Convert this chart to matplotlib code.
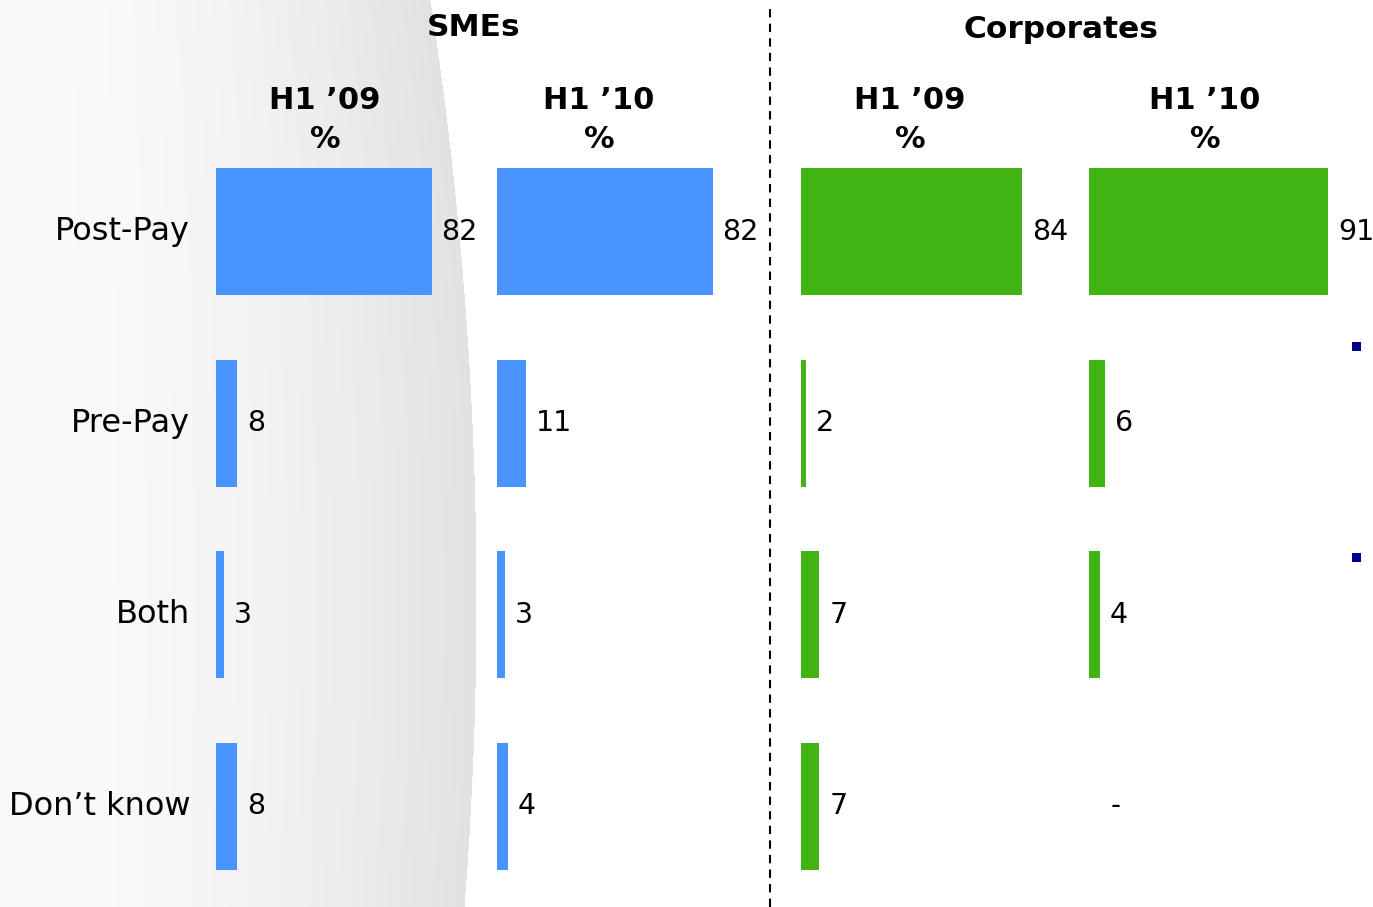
import matplotlib.pyplot as plt
import numpy as np
from matplotlib.patches import Rectangle
from matplotlib.lines import Line2D

W, H = 1373, 907

categories = ['Post-Pay', 'Pre-Pay', 'Both', 'Don\u2019t know']
periods = ['H1 \u201909', 'H1 \u201910']
groups = ['SMEs', 'Corporates']

sme_09 = [82, 8, 3, 8]
sme_10 = [82, 11, 3, 4]
corp_09 = [84, 2, 7, 7]
corp_10 = [91, 6, 4, None]   # no answer recorded -> shown as "-"

blue = '#4893fe'
green = '#41b312'

plt.rcParams['font.family'] = ['DejaVu Sans']

fig = plt.figure(figsize=(W / 100, H / 100), dpi=100)
fig.patch.set_facecolor('white')


def fx(px):
    return px / W


def fy(py):
    return 1 - py / H


# shaded backdrop on the left: grey ramp bounded by a curved edge
bg = fig.add_axes([0, 0, 1, 1], zorder=-10)
bg.axis('off')
yy, xx = np.mgrid[0:H, 0:W]
edge = 476 - 46 * ((yy - 600) / 600.0) ** 2
t = np.clip(xx / edge, 0, 1)
shade = 251 - 25 * t ** 1.8
img = np.where(xx < edge, shade, 255) / 255.0
bg.imshow(np.dstack([img, img, img]), extent=(0, W, H, 0), aspect='auto',
          interpolation='bilinear')
bg.set_xlim(0, W)
bg.set_ylim(H, 0)

# one axes per panel, sharing the same px-per-percent scale
scale = 2.63
starts = [216, 497, 801, 1089]
series = [sme_09, sme_10, corp_09, corp_10]
colors = [blue, blue, green, green]
ax_top, ax_bot = 135.7, 902.3
span = 100

axes = []
for left, vals, col in zip(starts, series, colors):
    ax = fig.add_axes([fx(left), fy(ax_bot), fx(span * scale), (ax_bot - ax_top) / H])
    ax.set_facecolor('none')
    ax.set_xlim(0, span)
    ax.set_ylim(3.5, -0.5)
    ax.axis('off')
    ys = np.arange(len(categories))
    widths = [v if v is not None else 0 for v in vals]
    ax.barh(ys, widths, height=0.6626, color=col, left=0)
    for y, v in zip(ys, vals):
        if v is None:
            ax.annotate('-', xy=(0, y), xytext=(19, 0), textcoords='offset points',
                        ha='center', va='center', fontsize=20, color='black')
        else:
            ax.annotate(str(v), xy=(v, y), xytext=(7, 0), textcoords='offset points',
                        ha='left', va='center', fontsize=20.5, color='black')
    axes.append(ax)

for y, cat in enumerate(categories):
    axes[0].annotate(cat, xy=(0, y), xytext=(-18.5, 0), textcoords='offset points',
                     ha='right', va='center', fontsize=23, color='black')

# column headers
header_x = [325, 599, 910, 1205]
for i, hx in enumerate(header_x):
    fig.text(fx(hx), fy(120), periods[i % 2] + '\n%', ha='center', va='center',
             fontsize=22, fontweight='bold', linespacing=1.45)

fig.text(fx(474), fy(28), groups[0], ha='center', va='center',
         fontsize=22.5, fontweight='bold')
fig.text(fx(1061), fy(30), groups[1], ha='center', va='center',
         fontsize=22.5, fontweight='bold')

# divider between the two groups
fig.add_artist(Line2D([fx(770), fx(770)], [fy(907), fy(5)], color='black',
                      linewidth=1.5, linestyle=(0, (4, 3)),
                      transform=fig.transFigure))

# small navy markers at the right margin
for sy in [342, 553]:
    fig.add_artist(Rectangle((fx(1352), fy(sy + 9)), fx(9), 9 / H,
                             facecolor='#00008f', edgecolor='none',
                             transform=fig.transFigure))

fig.savefig('out.png', dpi=100)
